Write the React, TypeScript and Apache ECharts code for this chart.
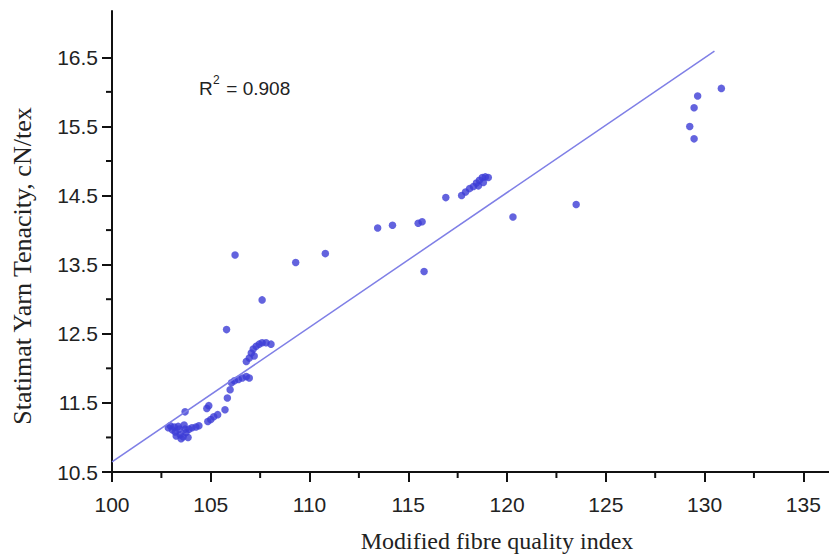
import React, { useEffect, useRef } from "react";
import * as echarts from "echarts";

// Modified fibre quality index (x) and Statimat yarn tenacity in cN/tex (y)
const mfqi = [
  102.85, 102.95, 103.05, 103.15, 103.2, 103.25, 103.35, 103.45, 103.5, 103.6,
  103.65, 103.75, 103.85, 103.9, 104.05, 104.25, 104.4, 103.4, 103.7,
  103.7, 104.8, 104.9, 104.85, 105.0, 105.15, 105.35, 105.72, 105.84, 105.98,
  106.05, 106.2, 106.4, 106.6, 106.8, 106.95,
  106.8, 106.95, 107.05, 107.15, 107.3, 107.45, 107.6, 107.8, 108.05, 107.2,
  105.8, 107.6, 106.23, 109.3, 110.8, 113.45, 114.2, 115.5, 115.7, 115.8, 116.9,
  117.7, 117.9, 118.1, 118.3, 118.45, 118.6, 118.75, 118.9, 119.05, 118.55, 118.8,
  120.3, 123.5, 129.25, 129.47, 129.47, 129.65, 130.85,
];
const tenacity = [
  11.14, 11.17, 11.11, 11.15, 11.08, 11.02, 11.16, 11.04, 10.98, 11.01,
  11.18, 11.07, 11.0, 11.12, 11.14, 11.15, 11.17, 11.12, 11.12,
  11.37, 11.42, 11.46, 11.23, 11.26, 11.3, 11.33, 11.4, 11.57, 11.69,
  11.79, 11.82, 11.84, 11.86, 11.88, 11.86,
  12.1, 12.15, 12.22, 12.28, 12.32, 12.35, 12.37, 12.37, 12.35, 12.18,
  12.56, 12.99, 13.64, 13.53, 13.66, 14.03, 14.07, 14.1, 14.12, 13.4, 14.47,
  14.5, 14.55, 14.6, 14.63, 14.68, 14.72, 14.76, 14.77, 14.76, 14.64, 14.69,
  14.19, 14.37, 15.5, 15.32, 15.77, 15.94, 16.05,
];

// Fitted regression line end points
const fitX = [100, 130.5];
const fitY = [10.645, 16.59];
const rSquared = "0.908";

// Axis ticks
const xMajor = [100, 105, 110, 115, 120, 125, 130, 135];
const xMinor = [102.5, 107.5, 112.5, 117.5, 122.5, 127.5, 132.5];
const yMajor = [10.5, 11.5, 12.5, 13.5, 14.5, 15.5, 16.5];
const yMinor = [11, 12, 13, 14, 15, 16];

const X_MIN = 100;
const X_MAX = 136.3;
const Y_MIN = 10.5;
const Y_MAX = 17.17;

const tickFont = {
  fontFamily: "Liberation Sans, Arial, sans-serif",
  fontSize: 21,
  color: "#222",
};
const SERIF = "Liberation Serif, Times New Roman, serif";

const tickLine = { color: "#111", width: 2 };
const MINOR_LEN = 5;

export default function App() {
  const ref = useRef<HTMLDivElement>(null);

  useEffect(() => {
    if (!ref.current) return;
    const chart = echarts.init(ref.current, undefined, { renderer: "svg" });

    const points = mfqi.map((x, i) => [x, tenacity[i]]);
    const fit = fitX.map((x, i) => [x, fitY[i]]);

    const axisLine = { show: true, onZero: false, lineStyle: { color: "#111", width: 2 } };

    chart.setOption({
      animation: false,
      backgroundColor: "#fff",
      grid: { left: 112, right: 0, top: 11, bottom: 85 },
      xAxis: {
        type: "value",
        min: X_MIN,
        max: X_MAX,
        axisLine,
        axisTick: { show: true, length: 10, customValues: xMajor, lineStyle: tickLine },
        axisLabel: { ...tickFont, margin: 22, customValues: xMajor },
        splitLine: { show: false },
      },
      yAxis: {
        type: "value",
        min: Y_MIN,
        max: Y_MAX,
        axisLine,
        axisTick: { show: true, length: 10, customValues: yMajor, lineStyle: tickLine },
        axisLabel: { ...tickFont, margin: 14, customValues: yMajor },
        splitLine: { show: false },
      },
      graphic: [
        {
          type: "text",
          x: 497,
          y: 541,
          style: {
            text: "Modified fibre quality index",
            font: `24px ${SERIF}`,
            fill: "#222",
            align: "center",
            verticalAlign: "middle",
          },
        },
        {
          type: "text",
          x: 22,
          y: 266,
          rotation: Math.PI / 2,
          style: {
            text: "Statimat Yarn Tenacity, cN/tex",
            font: `26px ${SERIF}`,
            fill: "#222",
            align: "center",
            verticalAlign: "middle",
          },
        },
        {
          type: "text",
          left: 199,
          top: 79,
          style: { text: "R", font: "19px Liberation Sans", fill: "#222" },
        },
        {
          type: "text",
          left: 213,
          top: 74,
          style: { text: "2", font: "12px Liberation Sans", fill: "#222" },
        },
        {
          type: "text",
          left: 221,
          top: 79,
          style: { text: " = " + rSquared, font: "19px Liberation Sans", fill: "#222" },
        },
      ],
      series: [
        {
          type: "line",
          data: fit,
          symbol: "none",
          lineStyle: { color: "#7f7fe6", width: 1.5 },
          silent: true,
        },
        {
          type: "scatter",
          data: points,
          symbol: "circle",
          symbolSize: 7.5,
          itemStyle: { color: "#3c3cd6" },
        },
        // short minor ticks below the x axis, between the labelled ones
        {
          type: "custom",
          data: xMinor.map((v) => [v, Y_MIN]),
          clip: false,
          silent: true,
          z: 10,
          renderItem: (_params: any, api: any) => {
            const p = api.coord([api.value(0), api.value(1)]);
            return {
              type: "rect",
              shape: { x: p[0] - 1, y: p[1] + 1, width: 2, height: MINOR_LEN },
              style: { fill: "#111" },
            };
          },
        },
        // short minor ticks left of the y axis
        {
          type: "custom",
          data: yMinor.map((v) => [X_MIN, v]),
          clip: false,
          silent: true,
          z: 10,
          renderItem: (_params: any, api: any) => {
            const p = api.coord([api.value(0), api.value(1)]);
            return {
              type: "rect",
              shape: { x: p[0] - 1 - MINOR_LEN, y: p[1] - 1, width: MINOR_LEN, height: 2 },
              style: { fill: "#111" },
            };
          },
        },
      ],
    });

    return () => chart.dispose();
  }, []);

  return (
    <div
      ref={ref}
      style={{ position: "fixed", left: 0, top: 0, width: 829, height: 557, background: "#fff" }}
    />
  );
}
